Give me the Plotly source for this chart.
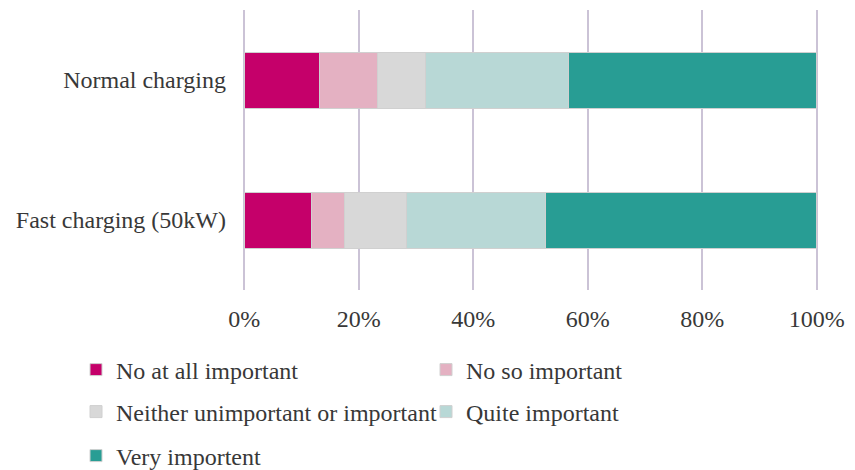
import plotly.graph_objects as go

categories = ["Normal charging", "Fast charging (50kW)"]
series_names = ["No at all important", "No so important",
                "Neither unimportant or important", "Quite important", "Very importent"]
not_at_all = [13.1, 11.8]
not_so = [10.1, 5.8]
neither = [8.5, 10.8]
quite = [25.0, 24.2]
very = [43.3, 47.4]
tick_vals = [0, 20, 40, 60, 80, 100]
tick_text = ["0%", "20%", "40%", "60%", "80%", "100%"]

series_values = [not_at_all, not_so, neither, quite, very]
colors = ["#C5006A", "#E4B1C2", "#D8D8D8", "#B8D8D6", "#289D94"]
legend_ids = ["legend", "legend2", "legend3", "legend4", "legend5"]
# legend entry positions (pixel x of entry start, pixel y of row centre)
legend_pos = [(76, 370), (426, 370), (76, 412), (426, 412), (76, 456)]

FONT = "Liberation Serif, Times New Roman, serif"
TXT = "#383838"

fig = go.Figure()
for name, vals, col, lg in zip(series_names, series_values, colors, legend_ids):
    fig.add_trace(go.Bar(
        y=categories, x=vals, name=name, orientation="h",
        marker=dict(color=col, line=dict(color="#D0D0D0", width=1)),
        legend=lg,
    ))

W, H = 855, 470
L, R, T, B = 243, 855 - 818, 10, 470 - 290
pw, ph = W - L - R, H - T - B

def px_x(x):
    return (x - L) / pw

def px_y(y):
    return (H - B - y) / ph

leg_common = dict(orientation="h", xanchor="left", yanchor="middle",
                  font=dict(family=FONT, size=24, color=TXT),
                  bgcolor="rgba(0,0,0,0)", borderwidth=0, itemclick=False)

legends = {}
for lg, (lx, ly) in zip(legend_ids, legend_pos):
    legends[lg] = dict(x=px_x(lx), y=px_y(ly), **leg_common)

fig.update_layout(
    width=W, height=H,
    margin=dict(l=L, r=R, t=T, b=B, autoexpand=False),
    barmode="stack", bargap=0.6,
    plot_bgcolor="white", paper_bgcolor="white",
    font=dict(family=FONT, size=24, color=TXT),
    xaxis=dict(range=[-0.2, 100.2], tickvals=tick_vals, ticktext=tick_text,
               showgrid=True, gridcolor="#CBC3D6", gridwidth=1.5,
               zeroline=False, showline=False, ticks="",
               ticklabelstandoff=12,
               tickfont=dict(family=FONT, size=24, color=TXT)),
    yaxis=dict(categoryorder="array", categoryarray=categories,
               autorange="reversed", showgrid=False, zeroline=False,
               showline=False, ticks="", ticklabelstandoff=16,
               tickfont=dict(family=FONT, size=24, color=TXT)),
    showlegend=True,
    **legends,
)

fig.write_html("out.html")
